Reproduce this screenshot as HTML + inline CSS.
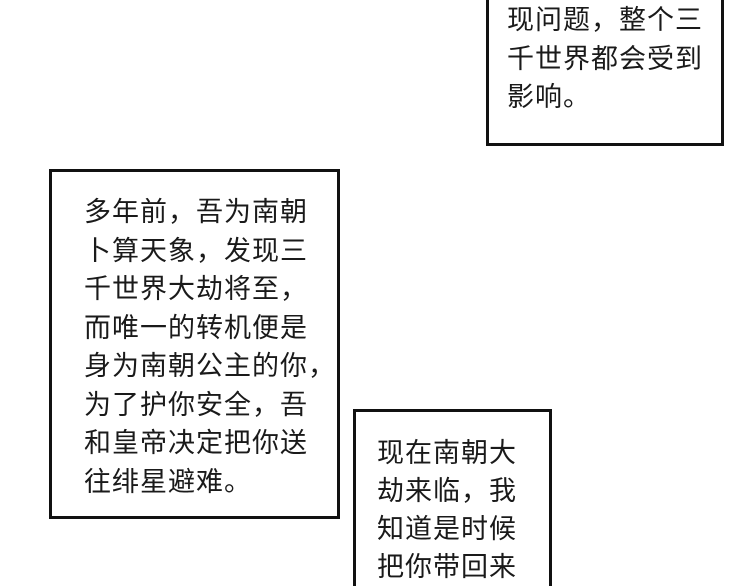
<!DOCTYPE html>
<html><head><meta charset="utf-8"><style>
html{overflow:hidden}
body{margin:0;width:750px;height:586px;background:#fff;overflow:hidden;position:relative;font-family:"Liberation Sans","Noto Sans CJK SC",sans-serif;color:#1a1a1a}
.b{position:absolute;border:3px solid #111;background:#fff;box-sizing:border-box}
.t{position:absolute;font-size:27px;line-height:38.5px;white-space:nowrap;letter-spacing:1px}
</style></head><body>
<div class="b" style="left:486px;top:0;width:238px;height:146px;border-top:none"></div>
<div class="t" style="left:507px;top:1px">现问题，整个三<br>千世界都会受到<br>影响。</div>
<div class="b" style="left:49px;top:169px;width:291px;height:350px"></div>
<div class="t" style="left:84px;top:193px">多年前，吾为南朝<br>卜算天象，发现三<br>千世界大劫将至，<br>而唯一的转机便是<br>身为南朝公主的你，<br>为了护你安全，吾<br>和皇帝决定把你送<br>往绯星避难。</div>
<div class="b" style="left:353px;top:409px;width:199px;height:177px;border-bottom:none"></div>
<div class="t" style="left:377px;top:434px;line-height:38px">现在南朝大<br>劫来临，我<br>知道是时候<br>把你带回来</div>
</body></html>
